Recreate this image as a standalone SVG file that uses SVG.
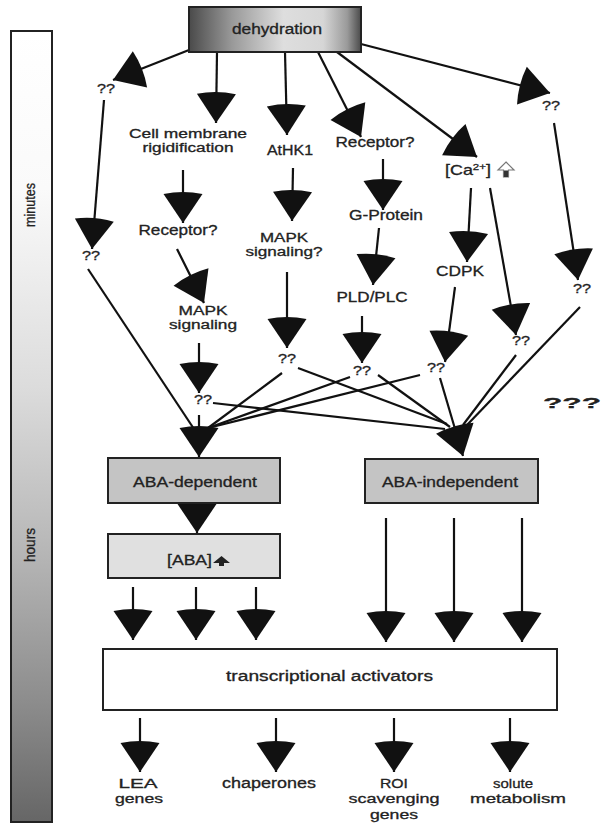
<svg xmlns="http://www.w3.org/2000/svg" width="601" height="824" viewBox="0 0 601 824">
<style>
.t{font-family:"Liberation Sans",Arial,sans-serif;font-size:14px;fill:#222;stroke:#222;stroke-width:0.3;text-anchor:middle}
.s{font-size:13px}
.m{font-size:12.5px}
.q{font-size:13px}
.box{stroke:#222;stroke-width:2}
.c{stroke:#111;stroke-width:2.2;fill:none}
.a{marker-end:url(#ah)}
</style>
<defs>
<marker id="ah" markerUnits="userSpaceOnUse" viewBox="-34 -21 35 42" refX="0" refY="0" markerWidth="35" markerHeight="42" orient="auto" overflow="visible">
<path d="M0,0 L-29,-19.5 Q-33,0 -29,19.5 Z" fill="#111"/>
</marker>
<linearGradient id="gBar" x1="0" y1="0" x2="0" y2="1">
<stop offset="0" stop-color="#ffffff"/>
<stop offset="0.2" stop-color="#fafafa"/>
<stop offset="0.45" stop-color="#dcdcdc"/>
<stop offset="0.65" stop-color="#b8b8b8"/>
<stop offset="0.85" stop-color="#8c8c8c"/>
<stop offset="1" stop-color="#666666"/>
</linearGradient>
<linearGradient id="gDeh" x1="0" y1="0" x2="1" y2="0">
<stop offset="0" stop-color="#4a4a4a"/>
<stop offset="0.25" stop-color="#999999"/>
<stop offset="0.55" stop-color="#dedede"/>
<stop offset="0.78" stop-color="#d6d6d6"/>
<stop offset="0.92" stop-color="#9a9a9a"/>
<stop offset="1" stop-color="#4a4a4a"/>
</linearGradient>
</defs>
<rect width="601" height="824" fill="#ffffff"/>

<g id="timebar">
<rect x="11" y="31" width="41" height="791" fill="url(#gBar)" class="box"/>
<text class="t" font-size="12.5" textLength="44" lengthAdjust="spacingAndGlyphs" transform="translate(35,205) rotate(-90)">minutes</text>
<text class="t" font-size="13" textLength="34" lengthAdjust="spacingAndGlyphs" transform="translate(35,545) rotate(-90)">hours</text>
</g>

<g id="connectors">
<path class="c a" d="M189,50 L113,80"/>
<path class="c a" d="M217,52 L216,123"/>
<path class="c a" d="M285,52 L287,135"/>
<path class="c a" d="M318,52 L361,137"/>
<path class="c a" d="M337,52 L477,157"/>
<path class="c a" d="M361,44 L550,93"/>
<path class="c a" d="M104,100 L92,249"/>
<path class="c" d="M88,269 L194,429"/>
<path class="c a" d="M183,170 L183,223"/>
<path class="c a" d="M177,249 L204,303"/>
<path class="c a" d="M199,343 L199,393"/>
<path class="c a" d="M199,415 L199,457"/>
<path class="c" d="M213,403 L445,429"/>
<path class="c a" d="M293,168 L292,221"/>
<path class="c a" d="M287,272 L287,348"/>
<path class="c" d="M282,373 L208,428"/>
<path class="c" d="M298,368 L447,424"/>
<path class="c a" d="M383,159 L383,210"/>
<path class="c a" d="M379,228 L373,285"/>
<path class="c a" d="M362,316 L362,363"/>
<path class="c" d="M350,377 L208,428"/>
<path class="c" d="M378,375 L450,427"/>
<path class="c a" d="M471,188 L467,262"/>
<path class="c a" d="M455,287 L445,362"/>
<path class="c a" d="M440,378 L463,456"/>
<path class="c" d="M420,375 L208,428"/>
<path class="c a" d="M490,188 L516,335"/>
<path class="c" d="M516,355 L463,425"/>
<path class="c a" d="M554,123 L578,280"/>
<path class="c" d="M580,307 L467,425"/>
<path class="c a" d="M197,503 L197,533"/>
<path class="c a" d="M133,587 L133,640"/>
<path class="c a" d="M196,587 L196,640"/>
<path class="c a" d="M256,587 L256,640"/>
<path class="c a" d="M386,518 L386,642"/>
<path class="c a" d="M454,518 L454,642"/>
<path class="c a" d="M522,518 L522,642"/>
<path class="c a" d="M140,718 L140,772"/>
<path class="c a" d="M276,718 L276,772"/>
<path class="c a" d="M394,718 L394,772"/>
<path class="c a" d="M510,718 L510,772"/>
</g>

<g id="dehydration">
<rect x="189" y="7" width="172" height="45" fill="url(#gDeh)" class="box"/>
<text class="t" x="277" y="34" font-size="13" textLength="90" lengthAdjust="spacingAndGlyphs">dehydration</text>
</g>

<g id="q1"><text class="t q" x="106" y="93" textLength="18" lengthAdjust="spacingAndGlyphs">??</text></g>
<g id="membrane">
<text class="t m" x="188" y="138" textLength="118" lengthAdjust="spacingAndGlyphs">Cell membrane</text>
<text class="t m" x="188" y="152" textLength="91" lengthAdjust="spacingAndGlyphs">rigidification</text>
</g>
<g id="athk1"><text class="t" x="290" y="155" textLength="46" lengthAdjust="spacingAndGlyphs">AtHK1</text></g>
<g id="receptor2"><text class="t" x="375" y="147" textLength="79" lengthAdjust="spacingAndGlyphs">Receptor?</text></g>
<g id="calcium">
<text class="t" transform="translate(445,175) scale(1.28,1)" style="text-anchor:start">[Ca<tspan font-size="9" dy="-5">2+</tspan><tspan dy="5">]</tspan></text>
<polygon points="506,162 514,170 508.5,170 508.5,177 503.5,177 503.5,170 498,170" fill="#fff" stroke="#777" stroke-width="1.2"/>
<rect x="504" y="170.5" width="4" height="6.5" fill="#333"/>
</g>
<g id="q2"><text class="t q" x="551" y="110" textLength="18" lengthAdjust="spacingAndGlyphs">??</text></g>

<g id="receptor1"><text class="t" x="178" y="235" textLength="79" lengthAdjust="spacingAndGlyphs">Receptor?</text></g>
<g id="mapk2">
<text class="t m" x="284" y="242" textLength="48" lengthAdjust="spacingAndGlyphs">MAPK</text>
<text class="t m" x="284" y="256" textLength="77" lengthAdjust="spacingAndGlyphs">signaling?</text>
</g>
<g id="q3"><text class="t q" x="91" y="260" textLength="18" lengthAdjust="spacingAndGlyphs">??</text></g>
<g id="gprotein"><text class="t" x="386" y="220" textLength="74" lengthAdjust="spacingAndGlyphs">G-Protein</text></g>
<g id="cdpk"><text class="t" x="460" y="276" textLength="48" lengthAdjust="spacingAndGlyphs">CDPK</text></g>
<g id="q4"><text class="t q" x="582" y="293" textLength="18" lengthAdjust="spacingAndGlyphs">??</text></g>
<g id="pld"><text class="t" x="372" y="302" textLength="71" lengthAdjust="spacingAndGlyphs">PLD/PLC</text></g>
<g id="mapk1">
<text class="t m" x="203" y="315" textLength="49" lengthAdjust="spacingAndGlyphs">MAPK</text>
<text class="t m" x="203" y="329" textLength="68" lengthAdjust="spacingAndGlyphs">signaling</text>
</g>
<g id="q5"><text class="t q" x="521" y="345" textLength="18" lengthAdjust="spacingAndGlyphs">??</text></g>
<g id="q6"><text class="t q" x="287" y="363" textLength="18" lengthAdjust="spacingAndGlyphs">??</text></g>
<g id="q7"><text class="t q" x="436" y="372" textLength="18" lengthAdjust="spacingAndGlyphs">??</text></g>
<g id="q8"><text class="t q" x="362" y="375" textLength="18" lengthAdjust="spacingAndGlyphs">??</text></g>
<g id="q9"><text class="t q" x="203" y="404" textLength="18" lengthAdjust="spacingAndGlyphs">??</text></g>
<g id="unknown"><text class="t" x="572" y="408" font-size="26" font-weight="bold" textLength="58" lengthAdjust="spacingAndGlyphs">???</text></g>

<g id="aba-dependent">
<rect x="108" y="458" width="172" height="45" fill="#c4c4c4" class="box"/>
<text class="t" x="195" y="487" textLength="124" lengthAdjust="spacingAndGlyphs">ABA-dependent</text>
</g>
<g id="aba-independent">
<rect x="365" y="459" width="173" height="44" fill="#c4c4c4" class="box"/>
<text class="t" x="450" y="487" textLength="136" lengthAdjust="spacingAndGlyphs">ABA-independent</text>
</g>
<g id="aba-level">
<rect x="108" y="534" width="172" height="44" fill="#e0e0e0" class="box"/>
<text class="t" x="189.5" y="565" textLength="45" lengthAdjust="spacingAndGlyphs">[ABA]</text>
<polygon points="213,563 221.5,556 230,563 224,563 224,566 219,566 219,563" fill="#222"/>
</g>
<g id="activators">
<rect x="103" y="649" width="454" height="61" fill="#ffffff" class="box"/>
<text class="t" x="329.5" y="681" textLength="207" lengthAdjust="spacingAndGlyphs">transcriptional activators</text>
</g>
<g id="lea">
<text class="t s" x="138" y="788" textLength="39" lengthAdjust="spacingAndGlyphs">LEA</text>
<text class="t s" x="139" y="803" textLength="48" lengthAdjust="spacingAndGlyphs">genes</text>
</g>
<g id="chaperones"><text class="t" x="269" y="788" textLength="94" lengthAdjust="spacingAndGlyphs">chaperones</text></g>
<g id="roi">
<text class="t s" x="394" y="788" textLength="28" lengthAdjust="spacingAndGlyphs">ROI</text>
<text class="t s" x="394" y="803" textLength="91" lengthAdjust="spacingAndGlyphs">scavenging</text>
<text class="t s" x="394" y="819" textLength="48" lengthAdjust="spacingAndGlyphs">genes</text>
</g>
<g id="solute">
<text class="t s" x="513" y="788" textLength="40" lengthAdjust="spacingAndGlyphs">solute</text>
<text class="t s" x="518" y="803" textLength="96" lengthAdjust="spacingAndGlyphs">metabolism</text>
</g>
</svg>
